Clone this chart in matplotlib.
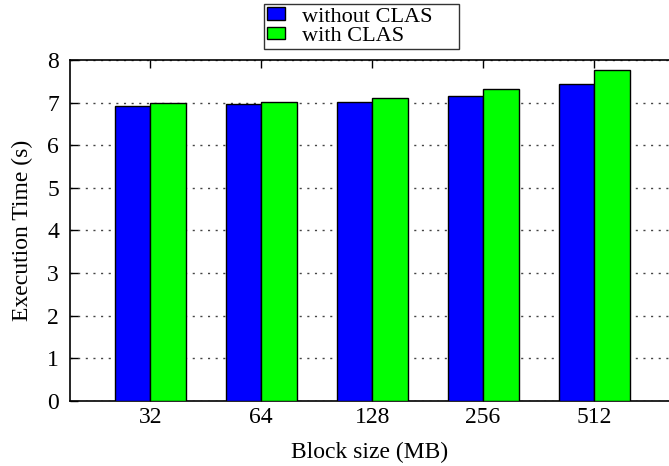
import numpy as np
import matplotlib.pyplot as plt

plt.rcParams['font.family'] = ['Liberation Serif', 'DejaVu Serif']

block_sizes = ['32', '64', '128', '256', '512']
without_clas = [6.93, 6.96, 7.02, 7.16, 7.44]
with_clas = [6.99, 7.01, 7.12, 7.31, 7.77]

W, H = 669, 466
fig = plt.figure(figsize=(W / 100, H / 100), dpi=100)
ax = fig.add_axes([70 / W, 1 - 401 / H, 1 - 70 / W, (401 - 60) / H])

x = np.arange(len(block_sizes))
bw = 0.32
ax.bar(x - bw / 2, without_clas, bw, color='#0000ff', edgecolor='black',
       linewidth=1.0, label='without CLAS', zorder=3)
ax.bar(x + bw / 2, with_clas, bw, color='#00ff00', edgecolor='black',
       linewidth=1.0, label='with CLAS', zorder=3)

ax.set_xlim(-0.725, 4.676)
ax.set_ylim(0, 8)
ax.set_xticks(x)
ax.set_xticklabels(block_sizes)
ax.set_yticks(range(0, 9))
ax.tick_params(axis='both', direction='in', labelsize=17, length=6,
               width=1, top=True, right=False)
ax.tick_params(axis='x', pad=4)
ax.tick_params(axis='y', pad=8)
ax.yaxis.grid(True, linestyle=(0, (1.5, 4)), color='#444444', linewidth=1)
ax.set_axisbelow(True)
for s in ['left', 'bottom', 'top']:
    ax.spines[s].set_linewidth(1.2)
ax.spines['right'].set_visible(False)

ax.set_xlabel('Block size (MB)', fontsize=17, labelpad=10)
ax.set_ylabel('Execution Time (s)', fontsize=17, labelpad=10)

leg = fig.legend(loc='upper left',
                 bbox_to_anchor=(264 / W, 1 - 4 / H, 195 / W, 0.0),
                 mode='expand', fontsize=16, frameon=True, fancybox=False,
                 edgecolor='black', borderpad=0.15, labelspacing=0.0,
                 handlelength=0.8, handleheight=0.5, handletextpad=0.75,
                 borderaxespad=0)
leg.get_frame().set_linewidth(1.0)

fig.savefig('out.png', dpi=100)
